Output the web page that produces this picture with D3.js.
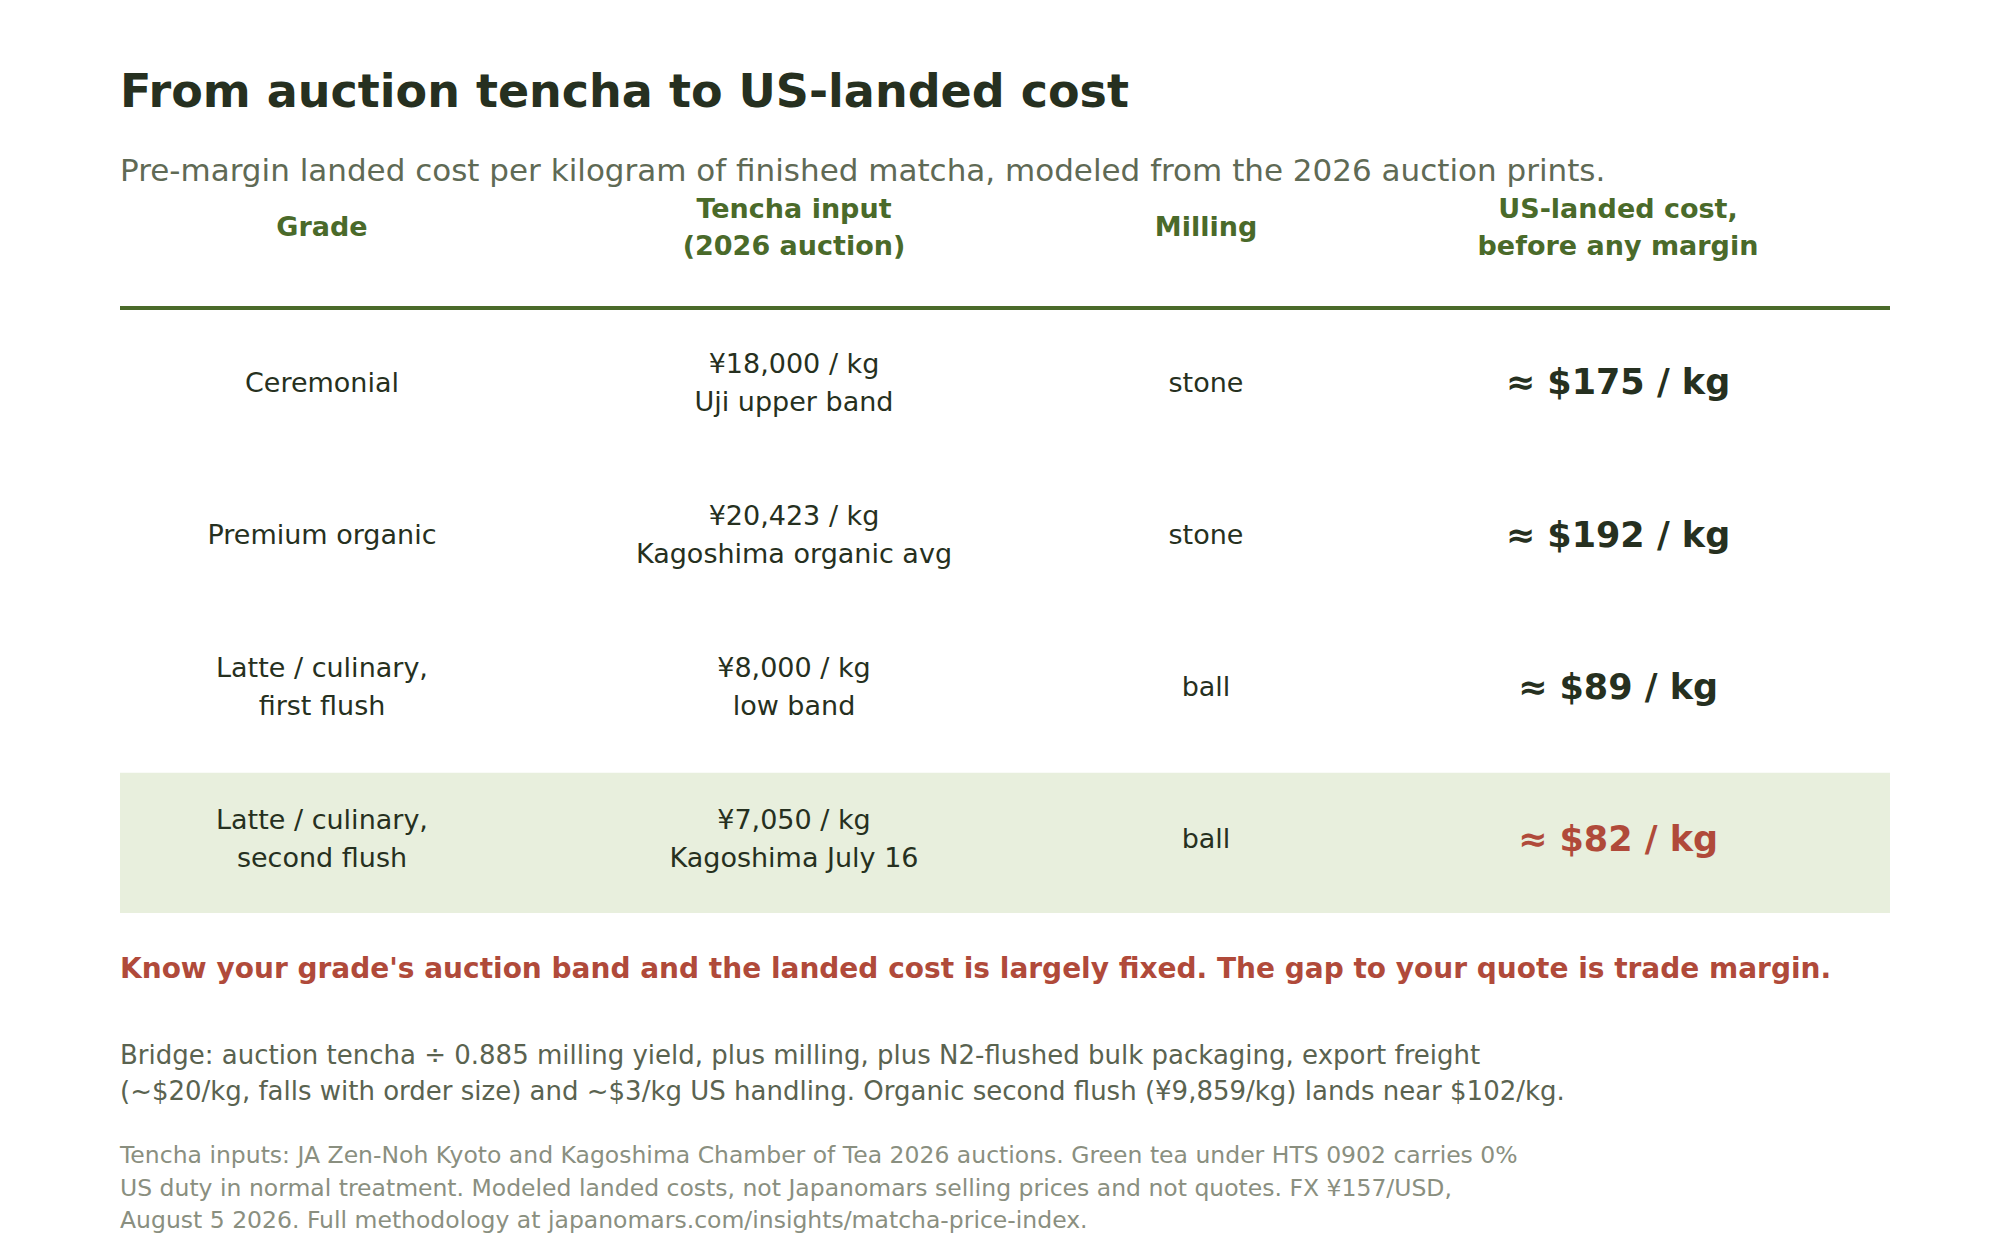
<!DOCTYPE html>
<html><head><meta charset="utf-8">
<script src="https://cdn.jsdelivr.net/npm/d3@7"></script>
<style>body{margin:0;background:#fff}text{font-family:"DejaVu Sans",sans-serif}</style>
</head><body><svg id="c" width="2000" height="1240"></svg>
<script>
const headers = [["Grade"], ["Tencha input", "(2026 auction)"], ["Milling"], ["US-landed cost,", "before any margin"]];
const grades = [["Ceremonial"], ["Premium organic"], ["Latte / culinary,", "first flush"], ["Latte / culinary,", "second flush"]];
const inputs = [["¥18,000 / kg", "Uji upper band"], ["¥20,423 / kg", "Kagoshima organic avg"], ["¥8,000 / kg", "low band"], ["¥7,050 / kg", "Kagoshima July 16"]];
const milling = ["stone", "stone", "ball", "ball"];
const landed = [175, 192, 89, 82];
const highlightRow = 3;

const svg = d3.select("#c");
const dark = "#263020", green = "#4a6a2a", red = "#b04a3a";
const x = d3.scaleOrdinal().domain([0, 1, 2, 3]).range([322, 794, 1206, 1618]);
const y = d3.scaleBand().domain(d3.range(grades.length)).range([306, 915]);

svg.append("text").attr("x", 120).attr("y", 107).attr("font-size", 46).attr("font-weight", "bold").attr("fill", dark)
  .text("From auction tencha to US-landed cost");
svg.append("text").attr("x", 120).attr("y", 181).attr("font-size", 31).attr("fill", "#5f6a55")
  .text("Pre-margin landed cost per kilogram of finished matcha, modeled from the 2026 auction prints.");

function lines(g, arr, cx, cy, lh) {
  const t = g.append("text").attr("text-anchor", "middle");
  arr.forEach((s, i) => t.append("tspan").attr("x", cx).attr("y", cy + (i - (arr.length - 1) / 2) * lh).attr("dy", "0.35em").text(s));
  return t;
}

headers.forEach((h, i) => lines(svg, h, x(i), 227, 37).attr("font-size", 27).attr("font-weight", "bold").attr("fill", green));
svg.append("line").attr("x1", 120).attr("x2", 1890).attr("y1", 308).attr("y2", 308).attr("stroke", green).attr("stroke-width", 4);

svg.append("rect").attr("x", 120).attr("width", 1770).attr("y", y(highlightRow) + 10).attr("height", y.bandwidth() - 12).attr("fill", "#e8efdd");

grades.forEach((g, i) => {
  const cy = y(i) + y.bandwidth() / 2;
  lines(svg, g, x(0), cy, 38).attr("font-size", 27).attr("fill", dark);
  lines(svg, inputs[i], x(1), cy, 38).attr("font-size", 27).attr("fill", dark);
  lines(svg, [milling[i]], x(2), cy, 38).attr("font-size", 27).attr("fill", dark);
  lines(svg, ["≈ $" + landed[i] + " / kg"], x(3), cy, 38).attr("font-size", 35).attr("font-weight", "bold")
    .attr("fill", i === highlightRow ? red : dark);
});

svg.append("text").attr("x", 120).attr("y", 978).attr("font-size", 28).attr("font-weight", "bold").attr("fill", red)
  .text("Know your grade's auction band and the landed cost is largely fixed. The gap to your quote is trade margin.");

const bridge = ["Bridge: auction tencha ÷ 0.885 milling yield, plus milling, plus N2-flushed bulk packaging, export freight",
  "(~$20/kg, falls with order size) and ~$3/kg US handling. Organic second flush (¥9,859/kg) lands near $102/kg."];
bridge.forEach((s, i) => svg.append("text").attr("x", 120).attr("y", 1064 + i * 36).attr("font-size", 26).attr("fill", "#5a6350").text(s));

const source = ["Tencha inputs: JA Zen-Noh Kyoto and Kagoshima Chamber of Tea 2026 auctions. Green tea under HTS 0902 carries 0%",
  "US duty in normal treatment. Modeled landed costs, not Japanomars selling prices and not quotes. FX ¥157/USD,",
  "August 5 2026. Full methodology at japanomars.com/insights/matcha-price-index."];
source.forEach((s, i) => svg.append("text").attr("x", 120).attr("y", 1163 + i * 32.5).attr("font-size", 23.5).attr("fill", "#8a8f80").text(s));
</script></body></html>
